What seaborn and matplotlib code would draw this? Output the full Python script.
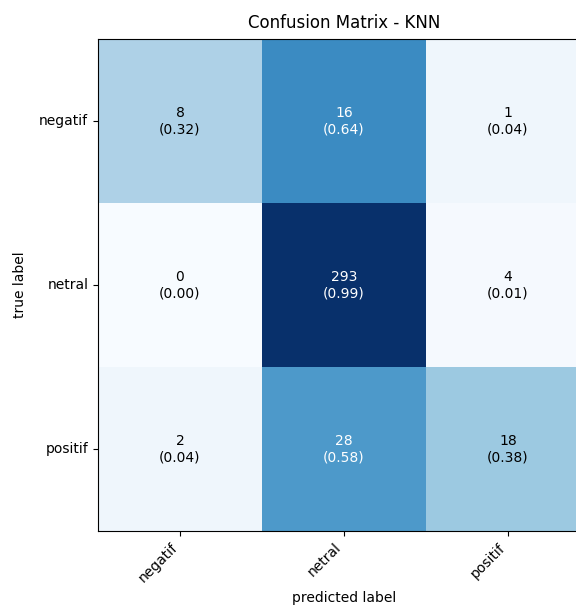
import matplotlib
matplotlib.use("Agg")
import matplotlib.pyplot as plt
import numpy as np
import seaborn as sns

labels = ["negatif", "netral", "positif"]
counts = np.array([
    [8, 16, 1],
    [0, 293, 4],
    [2, 28, 18],
])

normed = counts / counts.sum(axis=1, keepdims=True)
annot = np.array([[f"{c}\n({n:.2f})" for c, n in zip(rc, rn)] for rc, rn in zip(counts, normed)])

fig = plt.figure(figsize=(5.76, 6.08), dpi=100)
ax = fig.add_axes([98 / 576, 77 / 608, 492 / 576, 492 / 608])
sns.heatmap(normed, cmap="Blues", annot=False, cbar=False, square=True,
            xticklabels=labels, yticklabels=labels, ax=ax)

thresh = normed.max() / 2
for i in range(counts.shape[0]):
    for j in range(counts.shape[1]):
        ax.text(j + 0.5, i + 0.5, annot[i, j], ha="center", va="center",
                color="white" if normed[i, j] > thresh else "black", fontsize=10)

for s in ax.spines.values():
    s.set_visible(True)
    s.set_color("black")
ax.tick_params(axis="both", length=3.5, width=0.8)
plt.setp(ax.get_xticklabels(), rotation=45, ha="right")
plt.setp(ax.get_yticklabels(), rotation=0)
ax.set_xlabel("predicted label")
ax.set_ylabel("true label", labelpad=9)
ax.set_title("Confusion Matrix - KNN", pad=8)
fig.savefig("out.png", dpi=100)
